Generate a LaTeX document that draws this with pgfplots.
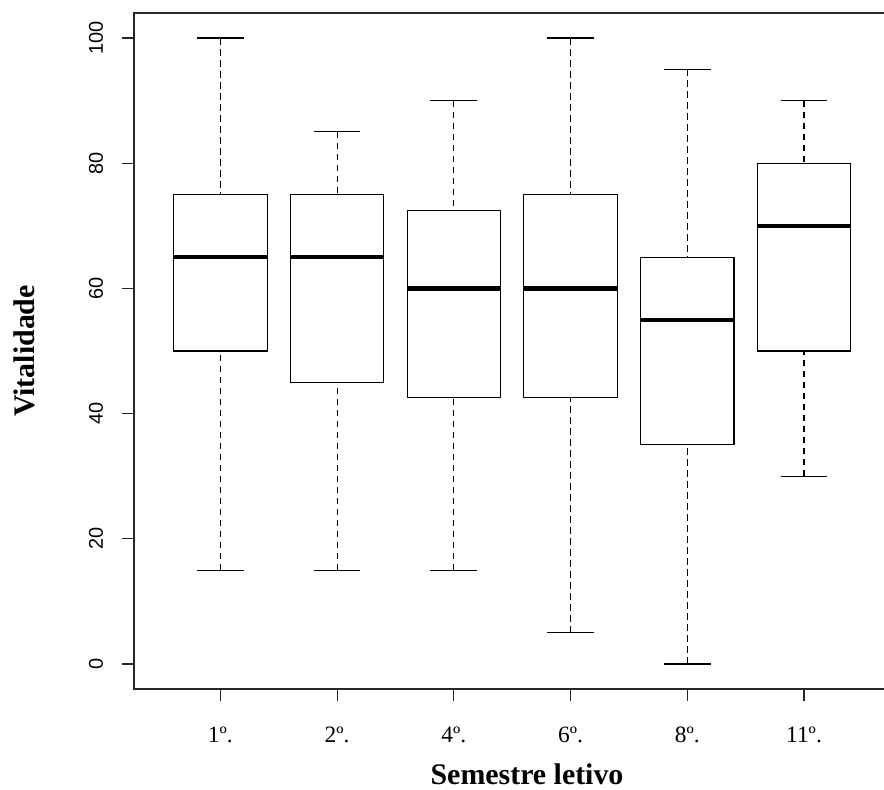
\documentclass[border=0pt]{standalone}
\usepackage{fontspec}
\setmainfont{Liberation Serif}
\newfontfamily\sansf{Liberation Sans}
\usepackage{pgfplots}
\usepgfplotslibrary{statistics}
\pgfplotsset{compat=1.18}
\begin{document}
\begin{tikzpicture}
\begin{axis}[
  at={(134bp,101bp)}, anchor=south west,
  scale only axis, width=756.4bp, height=676bp,
  xmin=0.26, xmax=6.74, ymin=-4, ymax=104,
  axis line style={line width=1.1bp, black!85},
  tick align=outside, tick pos=left,
  major tick length=12bp,
  every tick/.style={line width=1.1bp, black!85},
  xtick={1,2,3,4,5,6},
  xticklabels={1º.,2º.,4º.,6º.,8º.,11º.},
  ytick={0,20,40,60,80,100},
  xticklabel style={font=\fontsize{23.5}{26}\selectfont, anchor=base, yshift=-42bp},
  yticklabel style={font=\fontsize{20}{22}\selectfont\sansf, xshift=-19bp, rotate=90, anchor=base},
  /pgf/number format/assume math mode=true,
  xlabel={Semestre letivo}, ylabel={Vitalidade},
  label style={font=\fontsize{30}{32}\selectfont\bfseries},
  xlabel style={at={(axis description cs:0.5196,-0.142)}, anchor=base},
  ylabel style={at={(axis description cs:-0.1309,0.5)}, anchor=base},
  boxplot/draw direction=y,
  boxplot/box extend=0.8,
  boxplot/whisker extend=0.4,
  boxplot/every box/.style={line width=1.1bp},
  boxplot/every median/.style={line width=4.3bp},
  boxplot/draw/lower whisker/.code={%
    \draw[line width=1.1bp, dash pattern=on 6.5bp off 4.5bp]
      (boxplot cs:\pgfplotsboxplotvalue{lower whisker}) --
      (boxplot cs:\pgfplotsboxplotvalue{lower quartile});
    \draw[line width=1.1bp]
      (boxplot whisker cs:\pgfplotsboxplotvalue{lower whisker},0) --
      (boxplot whisker cs:\pgfplotsboxplotvalue{lower whisker},1);
  },
  boxplot/draw/upper whisker/.code={%
    \draw[line width=1.1bp, dash pattern=on 6.5bp off 4.5bp]
      (boxplot cs:\pgfplotsboxplotvalue{upper whisker}) --
      (boxplot cs:\pgfplotsboxplotvalue{upper quartile});
    \draw[line width=1.1bp]
      (boxplot whisker cs:\pgfplotsboxplotvalue{upper whisker},0) --
      (boxplot whisker cs:\pgfplotsboxplotvalue{upper whisker},1);
  },
]
\addplot[black, boxplot prepared={draw position=1, lower whisker=15, lower quartile=50, median=65, upper quartile=75, upper whisker=100}] coordinates {};
\addplot[black, boxplot prepared={draw position=2, lower whisker=15, lower quartile=45, median=65, upper quartile=75, upper whisker=85}] coordinates {};
\addplot[black, boxplot prepared={draw position=3, lower whisker=15, lower quartile=42.5, median=60, upper quartile=72.5, upper whisker=90}] coordinates {};
\addplot[black, boxplot prepared={draw position=4, lower whisker=5, lower quartile=42.5, median=60, upper quartile=75, upper whisker=100}] coordinates {};
\addplot[black, boxplot prepared={draw position=5, lower whisker=0, lower quartile=35, median=55, upper quartile=65, upper whisker=95}] coordinates {};
\addplot[black, boxplot prepared={draw position=6, lower whisker=30, lower quartile=50, median=70, upper quartile=80, upper whisker=90}] coordinates {};
\end{axis}
\pgfresetboundingbox
\useasboundingbox (0,0) rectangle (884bp,790bp);
\end{tikzpicture}
\end{document}
